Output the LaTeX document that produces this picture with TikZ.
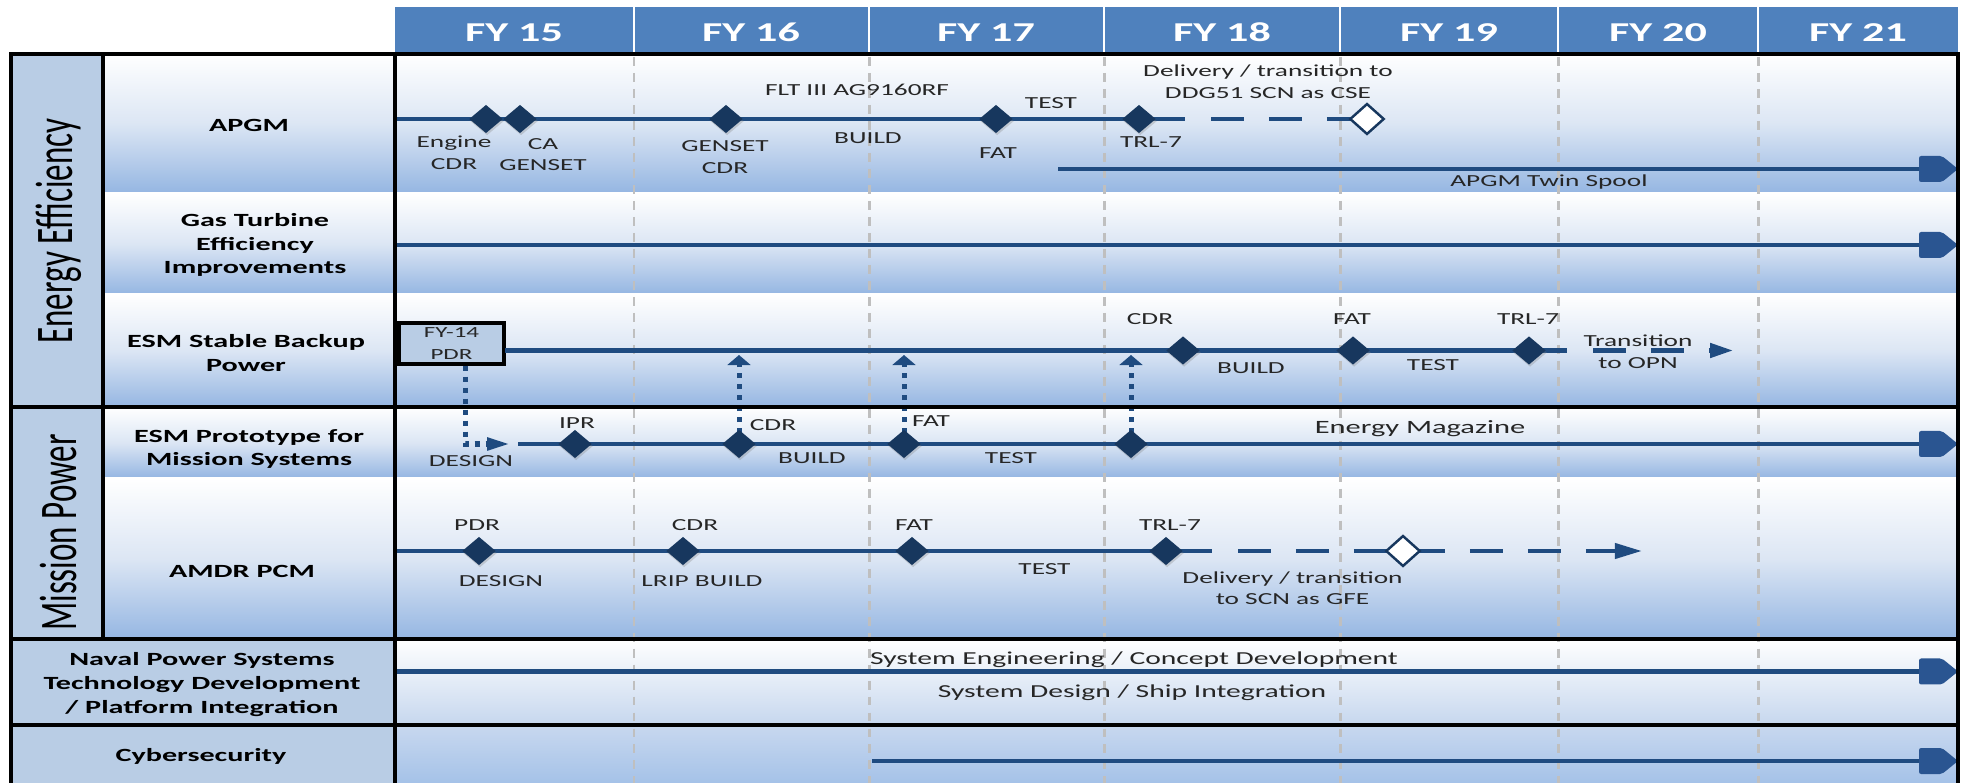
\documentclass[tikz,border=0pt]{standalone}
\usepackage{fontspec}
\setmainfont[FakeStretch=1.62]{Carlito}
\newfontfamily\rotfont{Carlito}
\usetikzlibrary{positioning}
\usetikzlibrary{shapes.geometric, arrows.meta, shadows}

\definecolor{hdrblue}{HTML}{4F81BD}
\definecolor{catfill}{HTML}{B9CDE5}
\definecolor{rowmid}{HTML}{DCE6F4}
\definecolor{rowbot}{HTML}{95B6E2}
\definecolor{navbot}{HTML}{C6D7EE}
\definecolor{cybtop}{HTML}{C8D8EF}
\definecolor{cybbot}{HTML}{A5C2E8}
\definecolor{linenavy}{HTML}{1F4B80}
\definecolor{milenavy}{HTML}{17375E}
\definecolor{headnavy}{HTML}{2A5591}
\definecolor{gridgray}{HTML}{BFBFBF}
\definecolor{txtgray}{HTML}{262626}

\tikzset{
  tabline/.style={black, line width=2.56pt, line cap=rect},
  gridline/.style={gridgray, line width=1.7pt, dash pattern=on 5.1pt off 4pt},
  rowfill/.style={top color=white, bottom color=rowbot, middle color=rowmid},
  tline/.style={linenavy, line width=2.45pt},
  tdash/.style={tline, dash pattern=on 18.8pt off 14.2pt},
  tarrow/.style={tline, shorten >=6pt},
  dotline/.style={linenavy, line width=2.85pt, dash pattern=on 2.85pt off 3.4pt},
  mile/.style={diamond, fill=milenavy, inner sep=0pt, outer sep=0pt, minimum width=19pt, minimum height=16pt,
    drop shadow={shadow xshift=0.6pt, shadow yshift=-1.2pt, opacity=0.3}},
  openmile/.style={diamond, draw=milenavy, fill=white, line width=1.4pt, inner sep=0pt, outer sep=0pt,
    minimum width=19pt, minimum height=17pt},
  pdrbox/.style={draw=black, line width=2pt, fill=catfill, minimum width=59.7pt, minimum height=23.3pt,
    font=\fontsize{8.8}{12.5}\selectfont, text=txtgray, align=center, inner sep=0pt},
  lbl/.style={font=\bfseries\fontsize{10.6}{13.6}\selectfont, text=black, anchor=base, align=center, inner sep=0pt},
  ms/.style={font=\fontsize{9.6}{12.3}\selectfont, text=txtgray, anchor=base, align=center, inner sep=0pt},
  hdr/.style={font=\bfseries\fontsize{15.5}{18}\selectfont, text=white, anchor=base, inner sep=0pt},
  cat/.style={font=\rotfont\fontsize{18.8}{22}\selectfont, text=black, rotate=90, transform shape, inner sep=0pt},
  endhead/.pic={\fill[headnavy, rounded corners=1.2pt] (-39,-13) -- (-16,-13) -- (0,0) -- (-16,13) -- (-39,13) -- cycle;}
}

\begin{document}
\begin{tikzpicture}[x=0.02cm, y=-0.02cm]
\useasboundingbox (0,0) rectangle (1965,783);

\fill[hdrblue] (395,7) rectangle (1958,54);
\foreach \x in {634,869,1104,1340,1558,1758} \draw[white, line width=0.9pt] (\x,7) -- (\x,52);
\foreach \x/\n in {514/15,751/16,986/17,1222/18,1449/19,1658/20,1858/21}
  \node[hdr] (fy\n) at (\x,42) {FY \n};

\fill[catfill] (11,54) rectangle (103,407);
\fill[catfill] (11,407) rectangle (103,639);
\fill[catfill] (11,639) rectangle (395,725);
\fill[catfill] (11,725) rectangle (395,783);
\foreach \a/\b in {54/193,193/294,294/407,407/478,478/639}
  \shade[rowfill] (103,\a) rectangle (1958,\b);
\shade[top color=white, bottom color=navbot] (395,639) rectangle (1958,725);
\shade[top color=cybtop, bottom color=cybbot] (395,725) rectangle (1958,783);

\foreach \x in {634,869,1104,1340,1558,1758} \draw[gridline] (\x,57) -- (\x,783);

\coordinate (aStart) at (395,119);
\coordinate (aEng) at (486,119);
\coordinate (aCa) at (520,119);
\coordinate (aGen) at (726,119);
\coordinate (aFat) at (996,119);
\coordinate (aTrl) at (1139,119);
\coordinate (aSolid) at (1185,119);
\coordinate (aDash) at (1211,119);
\coordinate (aCse) at (1367,119);
\coordinate (tsStart) at (1058,169);
\coordinate (tsEnd) at (1958,169);
\coordinate (gStart) at (395,245);
\coordinate (gEnd) at (1958,245);
\coordinate (sStart) at (505,350.5);
\coordinate (sCdr) at (1183,350.5);
\coordinate (sFat) at (1353,350.5);
\coordinate (sTrl) at (1529,350.5);
\coordinate (sSolid) at (1567,350.5);
\coordinate (sDash) at (1593,350.5);
\coordinate (sEnd) at (1733,350.5);
\coordinate (sUp) at (0,355);
\coordinate (dCorner) at (465,444);
\coordinate (dEnd) at (510,444);
\coordinate (pStart) at (518,444);
\coordinate (pIpr) at (575,444);
\coordinate (pCdr) at (739,444);
\coordinate (pFat) at (904,444);
\coordinate (pThr) at (1131,444);
\coordinate (pEnd) at (1958,444);
\coordinate (mStart) at (395,551);
\coordinate (mPdr) at (479,551);
\coordinate (mCdr) at (683,551);
\coordinate (mFat) at (912,551);
\coordinate (mTrl) at (1166,551);
\coordinate (mSolid) at (1212,551);
\coordinate (mDash) at (1238,551);
\coordinate (mGfe) at (1403,551);
\coordinate (mEnd) at (1642,551);
\coordinate (nStart) at (395,671.5);
\coordinate (nEnd) at (1958,671.5);
\coordinate (cyStart) at (872,761);
\coordinate (cyEnd) at (1958,761);

\node[pdrbox] (pdr) at (451.5,343.5) {FY-14\\PDR};

\draw[tline] (aStart) -- (aSolid);
\draw[tdash] (aDash) -- (aCse);
\draw[tarrow] (tsStart) -- (tsEnd);
\pic at (tsEnd) {endhead};
\draw[tarrow] (gStart) -- (gEnd);
\pic at (gEnd) {endhead};
\draw[tline] (sStart) -- (sSolid);
\draw[tdash, -{Triangle[length=13pt, width=8pt]}] (sDash) -- (sEnd);
\draw[dotline, -{Triangle[length=13pt, width=6.8pt]}] (pdr.south -| dCorner) -- (dCorner) -- (dEnd);
\foreach \c in {pCdr,pFat,pThr}
  \draw[dotline, -{Triangle[length=5.7pt, width=13pt]}] (\c) -- (\c |- sUp);
\draw[tarrow] (pStart) -- (pEnd);
\pic at (pEnd) {endhead};
\draw[tline] (mStart) -- (mSolid);
\draw[tdash, -{Triangle[length=15.4pt, width=8.5pt]}] (mDash) -- (mEnd);
\draw[tarrow] (nStart) -- (nEnd);
\pic at (nEnd) {endhead};
\draw[tarrow] (cyStart) -- (cyEnd);
\pic at (cyEnd) {endhead};

\draw[tabline] (11,783) -- (11,54) -- (1958,54) -- (1958,783);
\draw[tabline] (103,54) -- (103,639);
\draw[tabline] (395,54) -- (395,783);
\foreach \y in {407,639,725} \draw[tabline] (11,\y) -- (1958,\y);

\node[mile] (dEng) at (aEng) {};
\node[mile] (dCa) at (aCa) {};
\node[mile] (dGen) at (aGen) {};
\node[mile] (dAFat) at (aFat) {};
\node[mile] (dATrl) at (aTrl) {};
\node[openmile] (dCse) at (aCse) {};
\node[mile] (dSCdr) at (sCdr) {};
\node[mile] (dSFat) at (sFat) {};
\node[mile] (dSTrl) at (sTrl) {};
\node[mile] (dIpr) at (pIpr) {};
\node[mile] (dPCdr) at (pCdr) {};
\node[mile] (dPFat) at (pFat) {};
\node[mile] (dPThr) at (pThr) {};
\node[mile] (dMPdr) at (mPdr) {};
\node[mile] (dMCdr) at (mCdr) {};
\node[mile] (dMFat) at (mFat) {};
\node[mile] (dMTrl) at (mTrl) {};
\node[openmile] (dGfe) at (mGfe) {};

\begin{scope}[shift={(59,231)}, xscale=1.6]
\node[cat] (catEE) at (0,0) {Energy Efficiency};
\end{scope}
\begin{scope}[shift={(59,532.5)}, xscale=1.6]
\node[cat] (catMP) at (0,0) {Mission Power};
\end{scope}

\node[lbl] (lApgm) at (249,131.7) {APGM};
\node[lbl] (lGas) at (255,274) {Gas Turbine\\Efficiency\\Improvements};
\node[lbl] (lEsmB) at (246,371.7) {ESM Stable Backup\\Power};
\node[lbl] (lEsmP) at (249,466) {ESM Prototype for\\Mission Systems};
\node[lbl] (lAmdr) at (242,577.7) {AMDR PCM};
\node[lbl] (lNaval) at (202,713) {Naval Power Systems\\Technology Development\\/ Platform Integration};
\node[lbl] (lCyber) at (201,761.7) {Cybersecurity};

\node[ms] (tEngine) at (454,169.3) {Engine\\CDR};
\node[ms] (tCa) at (543,170.7) {CA\\GENSET};
\node[ms] (tGenset) at (725,173.3) {GENSET\\CDR};
\node[ms] (tFlt) at (857,96) {FLT III AG9160RF};
\node[ms] (tABuild) at (868,143.3) {BUILD};
\node[ms] (tATest) at (1051,108.3) {TEST};
\node[ms] (tAFat) at (998,158.3) {FAT};
\node[ms] (tATrl) at (1151,147.3) {TRL-7};
\node[ms, font=\fontsize{9.6}{12.7}\selectfont] (tCse) at (1268,99) {Delivery / transition to\\DDG51 SCN as CSE};
\node[ms] (tTwin) at (1549,186.7) {APGM Twin Spool};

\node[ms] (tSCdr) at (1150,325) {CDR};
\node[ms] (tSBuild) at (1251,374) {BUILD};
\node[ms] (tSFat) at (1352,325) {FAT};
\node[ms] (tSTest) at (1433,371) {TEST};
\node[ms] (tSTrl) at (1528,325) {TRL-7};
\node[ms] (tOpn) at (1638,368.3) {Transition\\to OPN};

\node[ms] (tIpr) at (577,429) {IPR};
\node[ms] (tPDesign) at (471,467) {DESIGN};
\node[ms] (tPCdr) at (773,430.7) {CDR};
\node[ms] (tPBuild) at (812,464) {BUILD};
\node[ms] (tPFat) at (931,426.7) {FAT};
\node[ms] (tPTest) at (1011,463.3) {TEST};
\node[ms, font=\fontsize{10.7}{13}\selectfont] (tMag) at (1420,434) {Energy Magazine};

\node[ms] (tMPdr) at (477,530.7) {PDR};
\node[ms] (tMDesign) at (501,586.7) {DESIGN};
\node[ms] (tMCdr) at (695,530.7) {CDR};
\node[ms] (tLrip) at (702,586.7) {LRIP BUILD};
\node[ms] (tMFat) at (914,530.7) {FAT};
\node[ms] (tMTest) at (1044.5,575) {TEST};
\node[ms] (tMTrl) at (1170,530.7) {TRL-7};
\node[ms, font=\fontsize{9.6}{12.4}\selectfont] (tGfe) at (1292.5,605) {Delivery / transition\\to SCN as GFE};

\node[ms, font=\fontsize{10.4}{13}\selectfont] (tSysEng) at (1134,664) {System Engineering / Concept Development};
\node[ms, font=\fontsize{10.4}{13}\selectfont] (tSysDes) at (1132,697.3) {System Design / Ship Integration};

\end{tikzpicture}
\end{document}
